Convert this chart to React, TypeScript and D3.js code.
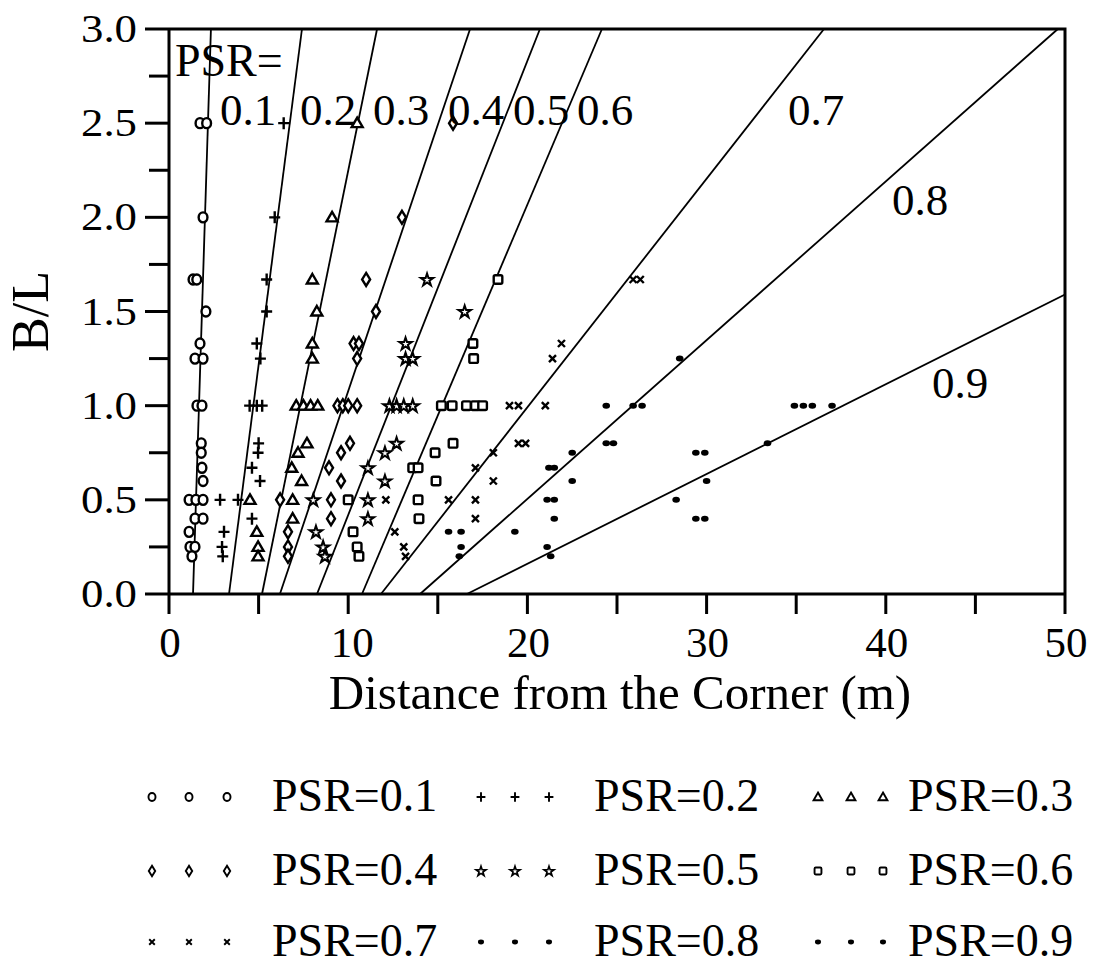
import React from 'react';
import * as d3 from 'd3';

// PSR reference lines: start at B/L = 0, end at (topX, topY)
const psrLabels = ['0.1', '0.2', '0.3', '0.4', '0.5', '0.6', '0.7', '0.8', '0.9'];
const lineBottomX = [1.34, 3.35, 5.19, 6.19, 8.26, 10.77, 11.83, 14.01, 16.63];
const lineTopX = [2.34, 7.42, 11.61, 16.8, 20.7, 24.16, 36.55, 49.6, 50];
const lineTopY = [3, 3, 3, 3, 3, 3, 3, 3, 1.59];
const labelX = [2.85, 7.31, 11.38, 15.57, 19.2, 22.77, 34.54, 40.35, 42.58];
const labelY = [2.49, 2.49, 2.49, 2.49, 2.49, 2.49, 2.49, 2.01, 1.04];

// observed points [distance (m), B/L]
const s01: [number, number][] = [
  [1.73, 2.5], [2.1, 2.5], [1.9, 2.0], [1.34, 1.67], [1.55, 1.67], [2.06, 1.5], [1.73, 1.33],
  [1.45, 1.25], [1.9, 1.25], [1.56, 1.0], [1.84, 1.0], [1.8, 0.8], [1.8, 0.75], [1.84, 0.67],
  [1.9, 0.6], [1.12, 0.5], [1.5, 0.5], [1.9, 0.5], [1.45, 0.4], [1.9, 0.4], [1.12, 0.33],
  [1.17, 0.25], [1.45, 0.25], [1.28, 0.2],
];
const s02: [number, number][] = [
  [6.4, 2.5], [5.9, 2.0], [5.45, 1.67], [5.45, 1.5], [4.9, 1.33], [5.1, 1.25], [4.5, 1.0],
  [4.9, 1.0], [5.2, 1.0], [5.0, 0.8], [4.97, 0.75], [4.63, 0.67], [5.08, 0.6], [2.85, 0.5],
  [3.85, 0.5], [4.63, 0.4], [3.07, 0.33], [2.96, 0.25], [3.0, 0.2],
];
const s03: [number, number][] = [
  [10.5, 2.5], [9.1, 2.0], [8.0, 1.67], [8.25, 1.5], [8.0, 1.33], [8.0, 1.25], [7.1, 1.0],
  [7.5, 1.0], [7.9, 1.0], [8.3, 1.0], [7.7, 0.8], [7.2, 0.75], [6.85, 0.67], [7.4, 0.6],
  [4.52, 0.5], [6.9, 0.5], [6.9, 0.4], [4.9, 0.33], [4.97, 0.25], [4.97, 0.2],
];
const s04: [number, number][] = [
  [15.85, 2.5], [13.0, 2.0], [11.0, 1.67], [11.55, 1.5], [10.3, 1.33], [10.6, 1.33], [10.5, 1.25],
  [9.4, 1.0], [9.7, 1.0], [10.0, 1.0], [10.5, 1.0], [10.1, 0.8], [9.6, 0.75], [8.93, 0.67],
  [9.6, 0.6], [6.2, 0.5], [9.04, 0.5], [9.04, 0.4], [6.64, 0.33], [6.64, 0.25], [6.64, 0.2],
];
const s05: [number, number][] = [
  [14.4, 1.67], [16.5, 1.5], [13.2, 1.33], [13.2, 1.25], [13.6, 1.25], [12.3, 1.0], [12.7, 1.0],
  [13.1, 1.0], [13.6, 1.0], [12.7, 0.8], [12.05, 0.75], [11.1, 0.67], [12.05, 0.6], [8.05, 0.5],
  [11.1, 0.5], [11.1, 0.4], [8.2, 0.33], [8.6, 0.25], [8.7, 0.2],
];
const s06: [number, number][] = [
  [18.36, 1.67], [16.96, 1.33], [17.0, 1.25], [15.2, 1.0], [15.8, 1.0], [16.6, 1.0], [17.1, 1.0],
  [17.5, 1.0], [15.85, 0.8], [14.85, 0.75], [13.6, 0.67], [13.9, 0.67], [14.9, 0.6], [10.0, 0.5],
  [13.9, 0.5], [13.95, 0.4], [10.27, 0.33], [10.5, 0.25], [10.6, 0.2],
];
const s07: [number, number][] = [
  [25.9, 1.67], [26.3, 1.67], [21.9, 1.33], [21.4, 1.25], [19.0, 1.0], [19.5, 1.0], [21.0, 1.0],
  [19.5, 0.8], [19.9, 0.8], [18.1, 0.75], [17.1, 0.67], [18.1, 0.6], [12.1, 0.5], [15.6, 0.5],
  [17.1, 0.5], [17.1, 0.4], [12.6, 0.33], [13.1, 0.25], [13.2, 0.2],
];
const s08: [number, number][] = [
  [28.5, 1.25], [24.4, 1.0], [25.9, 1.0], [26.4, 1.0], [24.4, 0.8], [24.8, 0.8], [22.5, 0.75],
  [21.2, 0.67], [21.5, 0.67], [22.5, 0.6], [21.1, 0.5], [21.5, 0.5], [21.5, 0.4], [15.6, 0.33],
  [16.3, 0.33], [19.3, 0.33], [16.3, 0.25], [16.2, 0.2],
];
const s09: [number, number][] = [
  [34.9, 1.0], [35.4, 1.0], [35.9, 1.0], [37.0, 1.0], [33.4, 0.8], [29.4, 0.75], [29.9, 0.75],
  [30.0, 0.6], [28.3, 0.5], [29.4, 0.4], [29.9, 0.4], [21.1, 0.25], [21.3, 0.2],
];
const seriesData = [s01, s02, s03, s04, s05, s06, s07, s08, s09];
const markerTypes = ['circle', 'plus', 'triangle', 'diamond', 'star', 'square', 'x', 'dot', 'dot'];
const legendLabels = psrLabels.map((p) => `PSR=${p}`);

const xMajorTicks = [0, 10, 20, 30, 40, 50];
const xMinorTicks = [5, 15, 25, 35, 45];
const yMajorTicks = [0, 0.5, 1.0, 1.5, 2.0, 2.5, 3.0];
const yMinorTicks = [0.25, 0.75, 1.25, 1.75, 2.25, 2.75];
const xTitle = 'Distance from the Corner (m)';
const yTitle = 'B/L';

const FONT = "'Liberation Serif', 'Times New Roman', serif";

function Marker({ type, x, y, k }: { type: string; x: number; y: number; k: number }) {
  const sw = 2.4 * k;
  switch (type) {
    case 'circle':
      return <ellipse cx={x} cy={y} rx={4.4 * k} ry={5 * k} fill="white" stroke="black" strokeWidth={sw} />;
    case 'plus':
      return (
        <path d={`M${x - 5.5 * k},${y}H${x + 5.5 * k}M${x},${y - 6 * k}V${y + 6 * k}`} stroke="black" strokeWidth={sw} />
      );
    case 'triangle':
      return (
        <path
          d={`M${x},${y - 5.5 * k}L${x + 5.5 * k},${y + 4 * k}L${x - 5.5 * k},${y + 4 * k}Z`}
          fill="white"
          stroke="black"
          strokeWidth={sw}
        />
      );
    case 'diamond':
      return (
        <path
          d={`M${x},${y - 6.5 * k}L${x + 4 * k},${y}L${x},${y + 6.5 * k}L${x - 4 * k},${y}Z`}
          fill="white"
          stroke="black"
          strokeWidth={sw}
        />
      );
    case 'star': {
      const p = d3.symbol().type(d3.symbolStar).size(48 * k * k)();
      return <path d={p || ''} transform={`translate(${x},${y + 0.5 * k})`} fill="white" stroke="black" strokeWidth={sw * 0.85} />;
    }
    case 'square':
      return (
        <rect x={x - 4.3 * k} y={y - 4.3 * k} width={8.6 * k} height={8.6 * k} rx={1.5 * k} fill="white" stroke="black" strokeWidth={sw} />
      );
    case 'x':
      return (
        <path
          d={`M${x - 3.5 * k},${y - 3.5 * k}L${x + 3.5 * k},${y + 3.5 * k}M${x - 3.5 * k},${y + 3.5 * k}L${x + 3.5 * k},${y - 3.5 * k}`}
          stroke="black"
          strokeWidth={sw}
        />
      );
    default:
      return <ellipse cx={x} cy={y} rx={3.8 * k} ry={3 * k} fill="black" />;
  }
}

export default function App() {
  const x = d3.scaleLinear().domain([0, 50]).range([169, 1065]);
  const y = d3.scaleLinear().domain([0, 3]).range([594, 29]);
  const line = d3
    .line<[number, number]>()
    .x((d) => x(d[0]))
    .y((d) => y(d[1]));

  const legendCols = [
    { mx: [152, 189, 227], tx: 272 },
    { mx: [481, 515, 549], tx: 594 },
    { mx: [818, 851, 883], tx: 908 },
  ];
  const legendRows = [797, 871, 942];

  return (
    <svg width={1096} height={967} style={{ position: 'absolute', left: 0, top: 0, background: 'white' }} fontFamily={FONT}>
      <rect x={0} y={0} width={1096} height={967} fill="white" />
      {/* PSR lines */}
      {psrLabels.map((p, i) => (
        <path
          key={`l${p}`}
          d={line([
            [lineBottomX[i], 0],
            [lineTopX[i], lineTopY[i]],
          ]) || ''}
          stroke="black"
          strokeWidth={1.8}
          fill="none"
        />
      ))}
      {/* points */}
      {seriesData.map((s, si) =>
        s.map((d, j) => <Marker key={`m${si}-${j}`} type={markerTypes[si]} x={x(d[0])} y={y(d[1])} k={1} />)
      )}
      {/* line labels */}
      <text x={x(0.33)} y={y(2.75)} fontSize={46}>
        PSR=
      </text>
      {psrLabels.map((p, i) => (
        <text key={`t${p}`} x={x(labelX[i])} y={y(labelY[i])} fontSize={45}>
          {p}
        </text>
      ))}
      {/* frame */}
      <path d={`M${x(0)},${y(3)}H${x(50)}V${y(0)}`} fill="none" stroke="black" strokeWidth={3} />
      <line x1={x(0)} x2={x(0)} y1={y(3)} y2={y(0)} stroke="black" strokeWidth={3} />
      <line x1={x(0)} x2={x(50)} y1={y(0)} y2={y(0)} stroke="black" strokeWidth={3} />
      {/* x ticks */}
      {[...xMajorTicks, ...xMinorTicks].map((t) => (
        <line key={`xt${t}`} x1={x(t)} x2={x(t)} y1={y(0)} y2={y(0) + 20} stroke="black" strokeWidth={3} />
      ))}
      {xMajorTicks.map((t) => (
        <text key={`xl${t}`} x={x(t) + (t === 10 ? 4 : 1)} y={657} fontSize={43} textAnchor="middle">
          {String(t)}
        </text>
      ))}
      {/* y ticks */}
      {yMajorTicks.map((t) => (
        <line key={`yt${t}`} x1={x(0) - 24} x2={x(0)} y1={y(t)} y2={y(t)} stroke="black" strokeWidth={3} />
      ))}
      {yMinorTicks.map((t) => (
        <line key={`ym${t}`} x1={x(0) - 20} x2={x(0)} y1={y(t)} y2={y(t)} stroke="black" strokeWidth={3} />
      ))}
      {yMajorTicks.map((t) => (
        <text key={`yl${t}`} x={81} y={y(t) + 13} fontSize={40} textLength={56} lengthAdjust="spacingAndGlyphs">
          {t.toFixed(1)}
        </text>
      ))}
      {/* titles */}
      <text x={(x(0) + x(50)) / 2 + 3} y={709} fontSize={49} textAnchor="middle">
        {xTitle}
      </text>
      <text transform={`translate(48,${y(1.5)}) rotate(-90)`} fontSize={52} textAnchor="middle">
        {yTitle}
      </text>
      {/* legend */}
      {legendLabels.map((lab, i) => {
        const col = legendCols[i % 3];
        const ry = legendRows[Math.floor(i / 3)];
        return (
          <g key={`lg${i}`}>
            {col.mx.map((mx, j) => (
              <Marker key={j} type={markerTypes[i]} x={mx} y={ry} k={0.8} />
            ))}
            <text x={col.tx} y={ry + 14} fontSize={46}>
              {lab}
            </text>
          </g>
        );
      })}
    </svg>
  );
}
